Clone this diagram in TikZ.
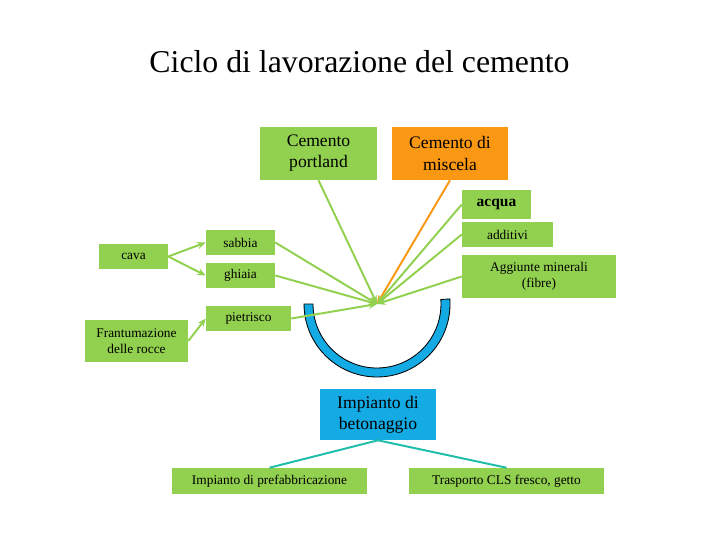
\documentclass[tikz,border=0pt]{standalone}
\usepackage{fontspec}
\setmainfont{Liberation Serif}
\usepackage{xcolor}
\usepackage{tikz}
\usetikzlibrary{arrows.meta}
\definecolor{verde}{RGB}{146,208,80}
\definecolor{arancio}{RGB}{250,152,20}
\definecolor{azzurro}{RGB}{20,170,228}
\definecolor{turchese}{RGB}{30,190,170}
\begin{document}
\begin{tikzpicture}[x=0.025cm, y=-0.025cm,
  box/.style={fill=verde, inner sep=0pt, align=center, font=\fontsize{9.5}{11.4}\selectfont},
  grande/.style={font=\fontsize{12.5}{15}\selectfont},
  freccia/.style={verde, line width=1.4pt, -{Stealth[length=6pt,width=5pt]}},
  ramo/.style={turchese, line width=1.4pt}]
\useasboundingbox (0,0) rectangle (720,540);
\node[anchor=base] (titolo) at (359.5,72) {\fontsize{22.6}{27}\selectfont Ciclo di lavorazione del cemento};
% materie prime
\node[box, grande, minimum width=2.925cm, minimum height=1.325cm] (portland) at (318.5,153.5) {Cemento\\portland};
\node[box, grande, fill=arancio, minimum width=2.9cm, minimum height=1.325cm] (miscela) at (450,153.5) {Cemento di\\miscela};
\node[box, font=\bfseries\fontsize{11}{13}\selectfont, minimum width=1.725cm, minimum height=0.725cm] (acqua) at (496.5,204.5) {acqua};
\node[box, minimum width=2.275cm, minimum height=0.625cm] (additivi) at (507.5,234.5) {additivi};
\node[box, minimum width=3.85cm, minimum height=1.075cm] (aggiunte) at (539,276.5) {Aggiunte minerali\\(fibre)};
\node[box, minimum width=1.725cm, minimum height=0.625cm] (cava) at (133.5,256.5) {cava};
\node[box, minimum width=1.725cm, minimum height=0.625cm] (sabbia) at (240.5,242.5) {sabbia};
\node[box, minimum width=1.725cm, minimum height=0.625cm] (ghiaia) at (240.5,275.5) {ghiaia};
\node[box, minimum width=2.125cm, minimum height=0.625cm] (pietrisco) at (248.5,318.5) {pietrisco};
\node[box, minimum width=2.575cm, minimum height=1.05cm] (rocce) at (136.5,341) {Frantumazione\\delle rocce};
% impianti
\node[box, grande, fill=azzurro, minimum width=2.9cm, minimum height=1.275cm] (betonaggio) at (378,414.5) {Impianto di\\betonaggio};
\node[box, minimum width=4.875cm, minimum height=0.65cm] (prefab) at (269.5,481) {Impianto di prefabbricazione};
\node[box, minimum width=4.875cm, minimum height=0.65cm] (getto) at (506.5,481) {Trasporto CLS fresco, getto};
% betoniera
\coordinate (P) at (377,304);
\fill[azzurro, draw=black, line width=0.6pt] (P) ++(-4:73) arc[start angle=-4, end angle=180, radius=73]
  -- ++(9,0) arc[start angle=180, end angle=-4, radius=64] -- cycle;
\draw[freccia] (cava.east) -- (sabbia.west);
\draw[freccia] (cava.east) -- (ghiaia.west);
\draw[freccia] (rocce.east) -- (pietrisco.west);
\draw[freccia] (sabbia.east) -- (P);
\draw[freccia] (ghiaia.east) -- (P);
\draw[freccia] (pietrisco.east) -- (P);
\draw[freccia] (portland.south) -- (P);
\draw[freccia, arancio] (miscela.south) -- (P);
\draw[freccia] (acqua.west) -- (P);
\draw[freccia] (additivi.west) -- (P);
\draw[freccia] (aggiunte.west) -- (P);
\draw[ramo] (betonaggio.south) -- (prefab.north);
\draw[ramo] (betonaggio.south) -- (getto.north);
\end{tikzpicture}
\end{document}
